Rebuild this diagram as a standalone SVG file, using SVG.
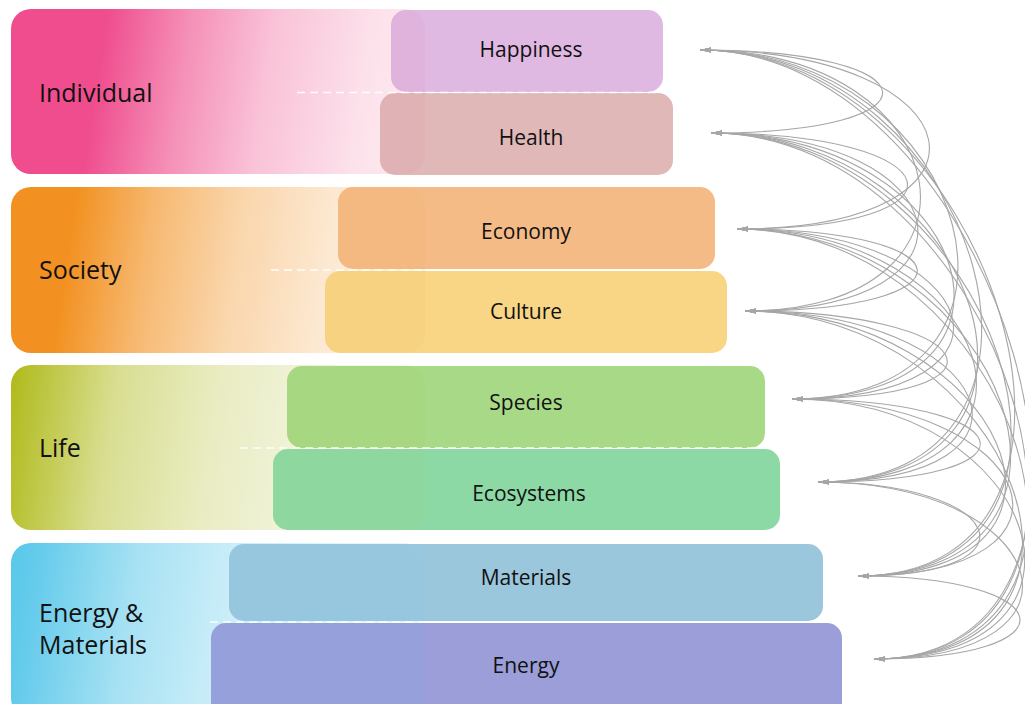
<svg xmlns="http://www.w3.org/2000/svg" width="1025" height="704" viewBox="0 0 1025 704">
<style>
.lbl{font-family:"Open Sans","Noto Sans","Liberation Sans",sans-serif;font-size:21px;fill:#111;text-anchor:middle}
.big{font-family:"Open Sans","Noto Sans","Liberation Sans",sans-serif;font-size:25px;fill:#111}
.dash{stroke:#ffffff;stroke-width:1.3;stroke-dasharray:8 5;fill:none;opacity:0.9}
.arc{fill:none;stroke:#a6a6a6;stroke-width:1.1;marker-start:url(#ah);marker-end:url(#ah)}
.ov{opacity:0.06}
</style>
<defs>
<marker id="ah" viewBox="0 0 11 6" refX="11" refY="3" markerWidth="11" markerHeight="6" markerUnits="userSpaceOnUse" orient="auto-start-reverse">
<path d="M0,0.5 L11,3 L0,5.5 z" fill="#a6a6a6"/>
</marker>
<linearGradient id="gInd" gradientUnits="userSpaceOnUse" x1="11" y1="30" x2="425" y2="92">
<stop offset="0" stop-color="#f04d8e"/><stop offset="0.22" stop-color="#f04d8e"/>
<stop offset="0.42" stop-color="#f04d8e" stop-opacity="0.6"/><stop offset="0.62" stop-color="#f04d8e" stop-opacity="0.3"/>
<stop offset="0.85" stop-color="#f04d8e" stop-opacity="0.12"/><stop offset="1" stop-color="#f04d8e" stop-opacity="0.06"/>
</linearGradient>
<linearGradient id="gSoc" gradientUnits="userSpaceOnUse" x1="11" y1="208" x2="425" y2="270">
<stop offset="0" stop-color="#f39121"/><stop offset="0.15" stop-color="#f39121"/>
<stop offset="0.35" stop-color="#f39121" stop-opacity="0.6"/><stop offset="0.55" stop-color="#f39121" stop-opacity="0.33"/>
<stop offset="0.8" stop-color="#f39121" stop-opacity="0.13"/><stop offset="1" stop-color="#f39121" stop-opacity="0.06"/>
</linearGradient>
<linearGradient id="gLife" gradientUnits="userSpaceOnUse" x1="11" y1="386" x2="425" y2="448">
<stop offset="0" stop-color="#b2bc1e"/><stop offset="0.05" stop-color="#b2bc1e" stop-opacity="0.9"/>
<stop offset="0.25" stop-color="#b2bc1e" stop-opacity="0.45"/><stop offset="0.5" stop-color="#b2bc1e" stop-opacity="0.22"/>
<stop offset="0.75" stop-color="#b2bc1e" stop-opacity="0.1"/><stop offset="1" stop-color="#b2bc1e" stop-opacity="0.05"/>
</linearGradient>
<linearGradient id="gEn" gradientUnits="userSpaceOnUse" x1="11" y1="564" x2="425" y2="626">
<stop offset="0" stop-color="#5bc8ea"/><stop offset="0.05" stop-color="#5bc8ea" stop-opacity="0.95"/>
<stop offset="0.3" stop-color="#5bc8ea" stop-opacity="0.5"/><stop offset="0.55" stop-color="#5bc8ea" stop-opacity="0.25"/>
<stop offset="0.8" stop-color="#5bc8ea" stop-opacity="0.12"/><stop offset="1" stop-color="#5bc8ea" stop-opacity="0.08"/>
</linearGradient>
</defs>
<rect width="1025" height="704" fill="#ffffff"/>

<g id="individual">
<rect x="11" y="9" width="414" height="165" rx="20" fill="url(#gInd)"/>
<g id="happiness"><rect x="391" y="10" width="272" height="82" rx="15" fill="#e0b9e2"/><text class="lbl" x="531" y="57">Happiness</text></g>
<g id="health"><rect x="380" y="93" width="293" height="82" rx="15" fill="#e0b8b8"/><text class="lbl" x="531" y="145">Health</text></g>
<rect class="ov" x="11" y="9" width="414" height="165" rx="20" fill="#f04d8e"/>
<line class="dash" x1="297" y1="92.5" x2="668" y2="92.5"/>
<text class="big" x="39" y="102">Individual</text>
</g>

<g id="society">
<rect x="11" y="187" width="414" height="166" rx="20" fill="url(#gSoc)"/>
<g id="economy"><rect x="338" y="187" width="377" height="82" rx="15" fill="#f5bb87"/><text class="lbl" x="526" y="239">Economy</text></g>
<g id="culture"><rect x="325" y="271" width="402" height="82" rx="15" fill="#f8d686"/><text class="lbl" x="526" y="319">Culture</text></g>
<rect class="ov" x="11" y="187" width="414" height="166" rx="20" fill="#f39121"/>
<line class="dash" x1="271" y1="270" x2="721" y2="270"/>
<text class="big" x="39" y="279">Society</text>
</g>

<g id="life">
<rect x="11" y="365" width="414" height="165" rx="20" fill="url(#gLife)"/>
<g id="species"><rect x="287" y="366" width="478" height="82" rx="15" fill="#a8d987"/><text class="lbl" x="526" y="410">Species</text></g>
<g id="ecosystems"><rect x="273" y="449" width="507" height="81" rx="15" fill="#8dd9a6"/><text class="lbl" x="529" y="501">Ecosystems</text></g>
<rect class="ov" x="11" y="365" width="414" height="165" rx="20" fill="#b2bc1e"/>
<line class="dash" x1="240" y1="448" x2="772" y2="448"/>
<text class="big" x="39" y="457">Life</text>
</g>

<g id="energy-materials">
<rect x="11" y="543" width="414" height="175" rx="20" fill="url(#gEn)"/>
<g id="materials"><rect x="229" y="544" width="594" height="77" rx="15" fill="#9bc7dd"/><text class="lbl" x="526" y="585">Materials</text></g>
<g id="energy"><rect x="211" y="623" width="631" height="95" rx="15" fill="#9b9ed9"/><text class="lbl" x="526" y="673">Energy</text></g>
<rect class="ov" x="11" y="543" width="414" height="175" rx="20" fill="#5bc8ea"/>
<line class="dash" x1="210" y1="622" x2="832" y2="622"/>
<text class="big" x="39" y="622">Energy &amp;</text>
<text class="big" x="39" y="654">Materials</text>
</g>

<g id="connectors">
<path class="arc" d="M700,50 C936,50 947,133 711,133"/>
<path class="arc" d="M700,50 C980,50 1017,229 737,229"/>
<path class="arc" d="M700,50 C962,50 1007,311 745,311"/>
<path class="arc" d="M700,50 C975,50 1067,399 792,399"/>
<path class="arc" d="M700,50 C985,50 1103,482 818,482"/>
<path class="arc" d="M700,50 C994,50 1152,576 858,576"/>
<path class="arc" d="M700,50 C1002,50 1176,659 874,659"/>
<path class="arc" d="M711,133 C955,133 981,229 737,229"/>
<path class="arc" d="M711,133 C963,133 997,311 745,311"/>
<path class="arc" d="M711,133 C975,133 1056,399 792,399"/>
<path class="arc" d="M711,133 C985,133 1092,482 818,482"/>
<path class="arc" d="M711,133 C995,133 1142,576 858,576"/>
<path class="arc" d="M711,133 C1003,133 1166,659 874,659"/>
<path class="arc" d="M737,229 C972,229 980,311 745,311"/>
<path class="arc" d="M737,229 C986,229 1041,399 792,399"/>
<path class="arc" d="M737,229 C996,229 1077,482 818,482"/>
<path class="arc" d="M737,229 C1008,229 1129,576 858,576"/>
<path class="arc" d="M737,229 C1017,229 1154,659 874,659"/>
<path class="arc" d="M745,311 C981,311 1028,399 792,399"/>
<path class="arc" d="M745,311 C994,311 1067,482 818,482"/>
<path class="arc" d="M745,311 C1005,311 1118,576 858,576"/>
<path class="arc" d="M745,311 C1014,311 1143,659 874,659"/>
<path class="arc" d="M792,399 C1025,399 1051,482 818,482"/>
<path class="arc" d="M792,399 C1038,399 1104,576 858,576"/>
<path class="arc" d="M792,399 C1041,399 1123,659 874,659"/>
<path class="arc" d="M818,482 C1005,482 1045,576 858,576"/>
<path class="arc" d="M818,482 C1050,482 1106,659 874,659"/>
<path class="arc" d="M858,576 C1063,576 1079,659 874,659"/>
</g>
</svg>
